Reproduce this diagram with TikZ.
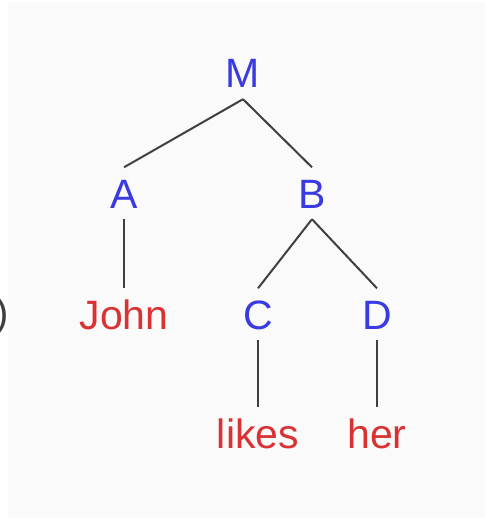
\documentclass[tikz,border=0pt]{standalone}
\usepackage{fontspec}
\setmainfont{Liberation Sans}
\definecolor{nodeblue}{RGB}{58,58,226}
\definecolor{leafred}{RGB}{218,50,50}
\definecolor{edgegray}{RGB}{64,64,64}
\definecolor{bggray}{RGB}{250,250,250}
\tikzset{
  lbl/.style={inner xsep=0pt, inner ysep=11pt, text height=29.5pt, text depth=0pt, anchor=base, font=\fontsize{41}{49}\selectfont},
  cat/.style={lbl, text=nodeblue},
  word/.style={lbl, text=leafred},
  edge/.style={draw=edgegray, line width=2pt}
}
\begin{document}
\begin{tikzpicture}[x=1pt, y=-1pt]
\useasboundingbox (0,0) rectangle (488,521);
\fill[white] (0,0) rectangle (488,521);
\fill[bggray] (8,2) rectangle (485,518);
\node[anchor=east, inner sep=0pt, text=edgegray, font=\fontsize{40}{48}\selectfont] (paren) at (9,316) {)};
\node[cat] (M) at (243,88) {M};
\node[cat] (A) at (124,208) {A};
\node[cat] (B) at (312,208) {B};
\node[word] (John) at (124,329) {John};
\node[cat] (C) at (258,329) {C};
\node[cat] (D) at (377,329) {D};
\node[word] (likes) at (258,448) {likes};
\node[word] (her) at (377,448) {her};
\draw[edge] (M.south) -- (A.north);
\draw[edge] (M.south) -- (B.north);
\draw[edge] (A.south) -- (John.north);
\draw[edge] (B.south) -- (C.north);
\draw[edge] (B.south) -- (D.north);
\draw[edge] (C.south) -- (likes.north);
\draw[edge] (D.south) -- (her.north);
\end{tikzpicture}
\end{document}
